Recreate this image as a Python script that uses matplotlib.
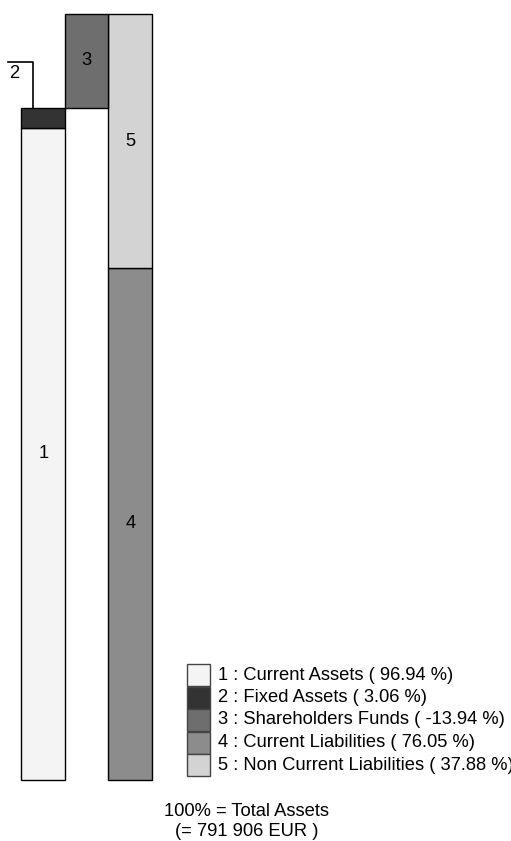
import matplotlib
matplotlib.use("Agg")
import matplotlib.pyplot as plt
from matplotlib.patches import Rectangle

plt.rcParams["font.family"] = ["Liberation Sans", "DejaVu Sans"]

# data (percent of total assets)
numbers = ["1", "2", "3", "4", "5"]
names = ["Current Assets", "Fixed Assets", "Shareholders Funds",
         "Current Liabilities", "Non Current Liabilities"]
values = [96.94, 3.06, -13.94, 76.05, 37.88]
colors = ["#f4f4f4", "#333333", "#6e6e6e", "#8c8c8c", "#d3d3d3"]
total_assets = "791 906"

W, H = 511, 841
FS = 13.2
fig = plt.figure(figsize=(W / 100, H / 100), dpi=100)
ax = fig.add_axes([0, 0, 1, 1])
ax.set_xlim(-0.994, 10.753)
ax.set_ylim(-9.15, 116.0)
ax.axis("off")

# left bar: assets
ax.bar(0, values[0], width=1, bottom=0, color=colors[0], edgecolor="black", lw=1)
ax.bar(0, values[1], width=1, bottom=values[0], color=colors[1], edgecolor="black", lw=1)
ax.text(0, values[0] / 2, numbers[0], ha="center", va="center", fontsize=FS)

# leader for the thin fixed assets segment
top = values[0] + values[1]
ax.plot([-0.23, -0.23, -0.82], [top, top + 6.8, top + 6.8], color="black", lw=1.2)
ax.text(-0.67, top + 5.0, numbers[1], ha="center", va="center", fontsize=FS)

# right bar: liabilities
ax.bar(2, values[3], width=1, bottom=0, color=colors[3], edgecolor="black", lw=1)
ax.bar(2, values[4], width=1, bottom=values[3], color=colors[4], edgecolor="black", lw=1)
ax.text(2, values[3] / 2, numbers[3], ha="center", va="center", fontsize=FS)
ax.text(2, values[3] + values[4] / 2, numbers[4], ha="center", va="center", fontsize=FS)

# negative equity drawn beside the liabilities, hanging from the top
liab_top = values[3] + values[4]
ax.bar(1, values[2], width=1, bottom=liab_top, color=colors[2], edgecolor="black", lw=1)
ax.text(1, liab_top + values[2] / 2, numbers[2], ha="center", va="center", fontsize=FS)

# legend
for i in range(5):
    y0 = 664 + i * 22.5
    fig.patches.append(Rectangle((187 / W, 1 - (y0 + 22) / H), 23 / W, 22 / H,
                                 transform=fig.transFigure, facecolor=colors[i],
                                 edgecolor="#444444", lw=1))
    fig.text(218 / W, 1 - (y0 + 11) / H,
             f"{numbers[i]} : {names[i]} ( {values[i]:.2f} %)",
             ha="left", va="center", fontsize=FS)

fig.text(247 / W, 1 - 812 / H, "100% = Total Assets", ha="center", va="center", fontsize=FS)
fig.text(247 / W, 1 - 832 / H, f"(= {total_assets} EUR )", ha="center", va="center", fontsize=FS)

fig.savefig("out.png", dpi=100)
